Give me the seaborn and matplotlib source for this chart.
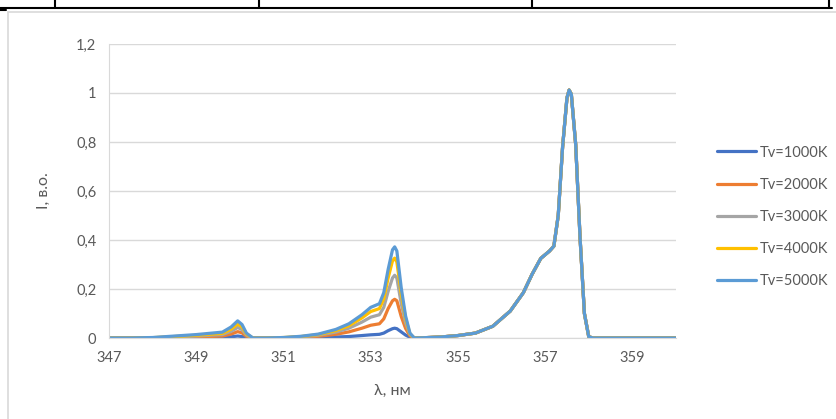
import matplotlib
matplotlib.use("Agg")
import matplotlib.pyplot as plt
from matplotlib.lines import Line2D
import seaborn as sns
import pandas as pd

# wavelength grid (nm)
wavelength = [347.0, 347.5, 348.0, 348.5, 349.0, 349.3, 349.6, 349.8, 349.95, 350.05, 350.15, 350.3,
              350.6, 351.0, 351.4, 351.8, 352.2, 352.5, 352.8, 353.0, 353.2, 353.3, 353.4, 353.5,
              353.55, 353.6, 353.7, 353.8, 353.9, 354.0, 354.2, 354.6, 355.0, 355.4, 355.8, 356.2,
              356.5, 356.7, 356.9, 357.1, 357.2, 357.3, 357.4, 357.5, 357.55, 357.6, 357.7, 357.8,
              357.9, 358.0, 358.1, 358.5, 359.0, 359.5, 360.0]

main_peak = [0.0, 0.001, 0.004, 0.01, 0.02, 0.048, 0.11, 0.185, 0.26, 0.325, 0.355, 0.375, 0.5,
             0.78, 0.98, 1.012, 0.995, 0.79, 0.41, 0.1, 0.005, 0.0, 0.0, 0.0, 0.0, 0.0]

tv1000 = [0, 0, 0, 0.0005, 0.001, 0.0015, 0.002, 0.005, 0.008, 0.006, 0.002, 0,
          0, 0, 0.001, 0.002, 0.004, 0.006, 0.01, 0.013, 0.015, 0.02, 0.03, 0.038,
          0.04, 0.038, 0.025, 0.012, 0.003] + main_peak
tv2000 = [0, 0, 0.0005, 0.002, 0.004, 0.006, 0.008, 0.016, 0.026, 0.021, 0.007, 0,
          0, 0.001, 0.003, 0.007, 0.015, 0.025, 0.04, 0.052, 0.058, 0.078, 0.12, 0.152,
          0.158, 0.152, 0.088, 0.039, 0.009] + main_peak
tv3000 = [0, 0, 0.001, 0.004, 0.008, 0.011, 0.014, 0.027, 0.043, 0.034, 0.012, 0,
          0, 0.001, 0.005, 0.011, 0.024, 0.04, 0.065, 0.085, 0.095, 0.125, 0.19, 0.245,
          0.256, 0.245, 0.14, 0.062, 0.014] + main_peak
tv4000 = [0, 0, 0.0015, 0.006, 0.011, 0.015, 0.019, 0.036, 0.057, 0.045, 0.016, 0,
          0, 0.002, 0.006, 0.014, 0.03, 0.05, 0.082, 0.108, 0.12, 0.16, 0.245, 0.315,
          0.326, 0.31, 0.18, 0.08, 0.017] + main_peak
tv5000 = [0, 0, 0.002, 0.008, 0.014, 0.019, 0.024, 0.045, 0.07, 0.055, 0.02, 0,
          0, 0.002, 0.007, 0.016, 0.035, 0.058, 0.095, 0.125, 0.14, 0.185, 0.28, 0.36,
          0.372, 0.355, 0.205, 0.09, 0.02] + main_peak

series_names = ["Tv=1000K", "Tv=2000K", "Tv=3000K", "Tv=4000K", "Tv=5000K"]
series_values = [tv1000, tv2000, tv3000, tv4000, tv5000]
colors = ["#4472C4", "#ED7D31", "#A5A5A5", "#FFC000", "#5B9BD5"]

x_ticks = [347, 349, 351, 353, 355, 357, 359]
y_ticks = [0, 0.2, 0.4, 0.6, 0.8, 1.0, 1.2]
y_tick_labels = ["0", "0,2", "0,4", "0,6", "0,8", "1", "1,2"]

rows = []
for name, vals in zip(series_names, series_values):
    for xv, yv in zip(wavelength, vals):
        rows.append({"wl": xv, "I": yv, "series": name})
df = pd.DataFrame(rows)

sns.set_style("white")
plt.rcParams["font.family"] = ["Lato", "DejaVu Sans"]
text_color = "#595959"

W, H = 837, 419
fig = plt.figure(figsize=(W / 100, H / 100), dpi=100)
ax = fig.add_axes([109 / W, 1 - 338 / H, (676 - 109) / W, (338 - 44) / H])

sns.lineplot(data=df, x="wl", y="I", hue="series", palette=colors, linewidth=2.3,
             ax=ax, legend=False, estimator=None, sort=False)

ax.set_xlim(347, 360)
ax.set_ylim(0, 1.2)
ax.set_xticks(x_ticks)
ax.set_xticklabels([str(t) for t in x_ticks])
ax.set_yticks(y_ticks)
ax.set_yticklabels(y_tick_labels)
ax.tick_params(axis="both", length=0, labelsize=10.5, colors=text_color, pad=9)
ax.grid(axis="y", color="#D9D9D9", linewidth=1)
ax.grid(axis="x", visible=False)
for s in ["top", "right"]:
    ax.spines[s].set_visible(False)
ax.spines["left"].set_color("#D9D9D9")
ax.spines["bottom"].set_color("#D9D9D9")
ax.set_axisbelow(True)

ax.set_xlabel("λ, нм", fontsize=11.5, color=text_color, labelpad=14)
ax.set_ylabel("I, в.о.", fontsize=11.5, color=text_color, labelpad=18)

handles = [Line2D([0], [0], color=c, linewidth=2.3) for c in colors]
fig.legend(handles, series_names, loc="center left", bbox_to_anchor=(717 / W, 1 - 217 / H),
           frameon=False, fontsize=10.5, labelcolor=text_color, handlelength=2.7,
           handletextpad=0.25, labelspacing=1.25, borderpad=0, borderaxespad=0)

# page decoration: table border above and chart-area frame
def fline(x0, y0, x1, y1, color, lw):
    fig.add_artist(Line2D([x0 / W, x1 / W], [1 - y0 / H, 1 - y1 / H], color=color,
                          linewidth=lw, transform=fig.transFigure))

fline(0, 8, 832, 8, "black", 1.5)
for xv in [55, 259, 532, 829]:
    fline(xv, 0, xv, 8, "black", 1.5)
fline(0, 10.5, 6, 10.5, "black", 1.5)
fline(8, 12, 837, 12, "#D9D9D9", 1.2)
fline(8, 12, 8, 419, "#D9D9D9", 1.2)

fig.savefig("out.png", dpi=100)
